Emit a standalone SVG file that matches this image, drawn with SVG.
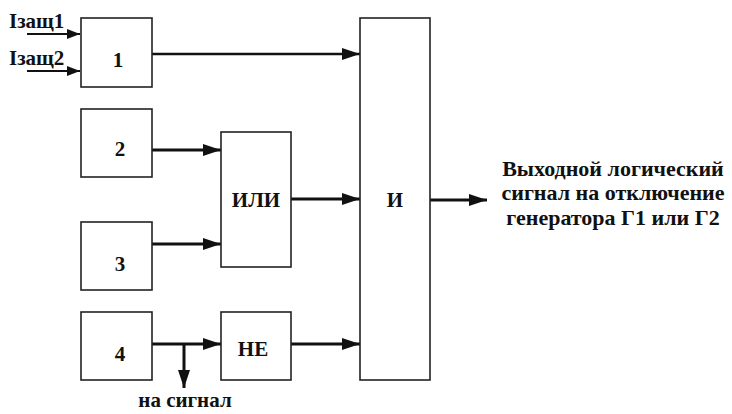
<svg xmlns="http://www.w3.org/2000/svg" width="732" height="414" viewBox="0 0 732 414">
<defs>
<style>
.box{fill:#fff;stroke:#222;stroke-width:1.6}
.t{font-family:'Liberation Serif','Times New Roman',serif;font-weight:bold;fill:#111}
.c{stroke:#111;fill:none}
</style>
<marker id="ah" markerUnits="userSpaceOnUse" markerWidth="20" markerHeight="12" refX="18" refY="6" orient="auto"><path d="M0,0 L18,6 L0,12 Z" fill="#111"/></marker>
<marker id="ahs" markerUnits="userSpaceOnUse" markerWidth="14" markerHeight="10" refX="13" refY="5" orient="auto"><path d="M0,0 L13,5 L0,10 Z" fill="#111"/></marker>
</defs>
<rect width="732" height="414" fill="#fff"/>
<g id="connectors">
<path class="c" d="M27,34 H80" stroke-width="1.8" marker-end="url(#ahs)"/>
<path class="c" d="M27,71 H80" stroke-width="1.8" marker-end="url(#ahs)"/>
<path class="c" d="M152,54 H360" stroke-width="2.4" marker-end="url(#ah)"/>
<path class="c" d="M152,150 H221" stroke-width="3" marker-end="url(#ah)"/>
<path class="c" d="M152,244 H221" stroke-width="3" marker-end="url(#ah)"/>
<path class="c" d="M291,199 H360" stroke-width="3" marker-end="url(#ah)"/>
<path class="c" d="M152,344 H221" stroke-width="3" marker-end="url(#ah)"/>
<path class="c" d="M184,344 V388" stroke-width="3" marker-end="url(#ah)"/>
<path class="c" d="M291,344 H360" stroke-width="3" marker-end="url(#ah)"/>
<path class="c" d="M430,200 H487" stroke-width="3" marker-end="url(#ah)"/>
</g>
<g id="labels-in">
<text class="t" x="9" y="28" font-size="21">Iзащ1</text>
<text class="t" x="9" y="65" font-size="21">Iзащ2</text>
</g>
<g id="n1"><rect class="box" x="81" y="18" width="71" height="69"/><text class="t" x="118" y="67" font-size="21" text-anchor="middle">1</text></g>
<g id="n2"><rect class="box" x="81" y="109" width="71" height="68"/><text class="t" x="120" y="156" font-size="21" text-anchor="middle">2</text></g>
<g id="n3"><rect class="box" x="81" y="222" width="71" height="68"/><text class="t" x="120" y="271" font-size="21" text-anchor="middle">3</text></g>
<g id="n4"><rect class="box" x="81" y="312" width="71" height="68"/><text class="t" x="120" y="361" font-size="21" text-anchor="middle">4</text></g>
<g id="or"><rect class="box" x="221" y="132" width="70" height="135"/><text class="t" x="256" y="207" font-size="21" text-anchor="middle">ИЛИ</text></g>
<g id="not"><rect class="box" x="221" y="312" width="70" height="68"/><text class="t" x="253" y="356" font-size="21" text-anchor="middle">НЕ</text></g>
<g id="and"><rect class="box" x="360" y="18" width="70" height="362"/><text class="t" x="395" y="207" font-size="21" text-anchor="middle">И</text></g>
<g id="out-label">
<text class="t" font-size="22" text-anchor="middle"><tspan x="613" y="176">Выходной логический</tspan><tspan x="613" y="200">сигнал на отключение</tspan><tspan x="613" y="225">генератора Г1 или Г2</tspan></text>
</g>
<g id="branch-label"><text class="t" x="185" y="407" font-size="21" text-anchor="middle">на сигнал</text></g>
</svg>
